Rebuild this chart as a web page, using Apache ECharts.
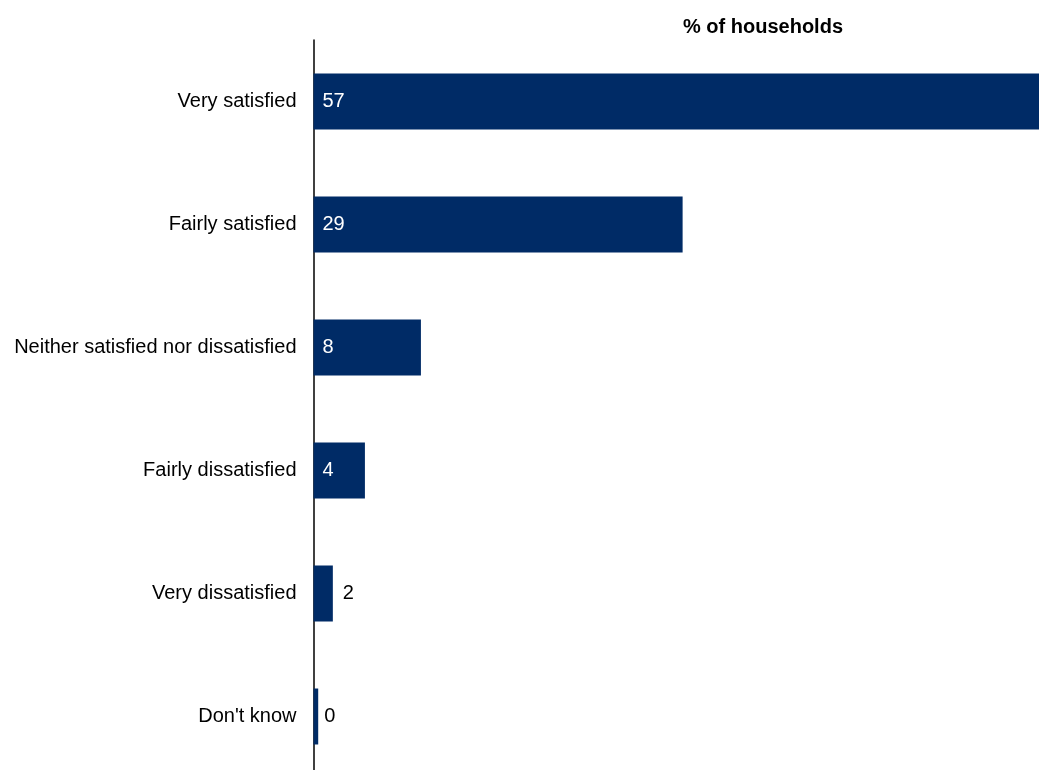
<!DOCTYPE html>
<html>
<head>
<meta charset="utf-8">
<script src="https://cdn.jsdelivr.net/npm/echarts@6/dist/echarts.min.js"></script>
<style>html,body{margin:0;padding:0;background:#fff;overflow:hidden}#c{width:1039px;height:790px}</style>
</head>
<body>
<div id="c"></div>
<script>
const categories = ["Very satisfied", "Fairly satisfied", "Neither satisfied nor dissatisfied", "Fairly dissatisfied", "Very dissatisfied", "Don't know"];
const values = [57, 29, 8.44, 4.04, 1.52, 0.37];
const labels = ["57", "29", "8", "4", "2", "0"];
const insideFlags = [true, true, true, true, false, false];

const chart = echarts.init(document.getElementById('c'));
const font = 'Liberation Sans, Arial, sans-serif';
chart.setOption({
  animation: false,
  title: {
    text: '% of households',
    left: 758, top: 12, textAlign: 'center',
    textStyle: {fontFamily: font, fontSize: 20, fontWeight: 'bold', color: '#000'}
  },
  grid: {left: 313.5, width: 725.5, top: 40, height: 738, containLabel: false},
  xAxis: {type: 'value', min: 0, max: 57, show: false},
  yAxis: {
    type: 'category', data: categories, inverse: true,
    axisLine: {show: true, lineStyle: {color: '#000', width: 1.5}},
    axisTick: {show: false},
    axisLabel: {fontFamily: font, fontSize: 20, color: '#000', margin: 17, padding: [3, 0, 0, 0]}
  },
  series: [{
    type: 'bar',
    barWidth: '45.5%',
    itemStyle: {color: '#002B66'},
    data: values.map((v, i) => ({
      value: v,
      label: insideFlags[i]
        ? {show: true, position: 'insideLeft', distance: 9, color: '#fff', formatter: labels[i], padding: [3, 0, 0, 0]}
        : {show: true, position: 'right', distance: i === 4 ? 10 : 6, color: '#000', formatter: labels[i], padding: [3, 0, 0, 0]}
    })),
    label: {fontFamily: font, fontSize: 20}
  }]
});
</script>
</body>
</html>
